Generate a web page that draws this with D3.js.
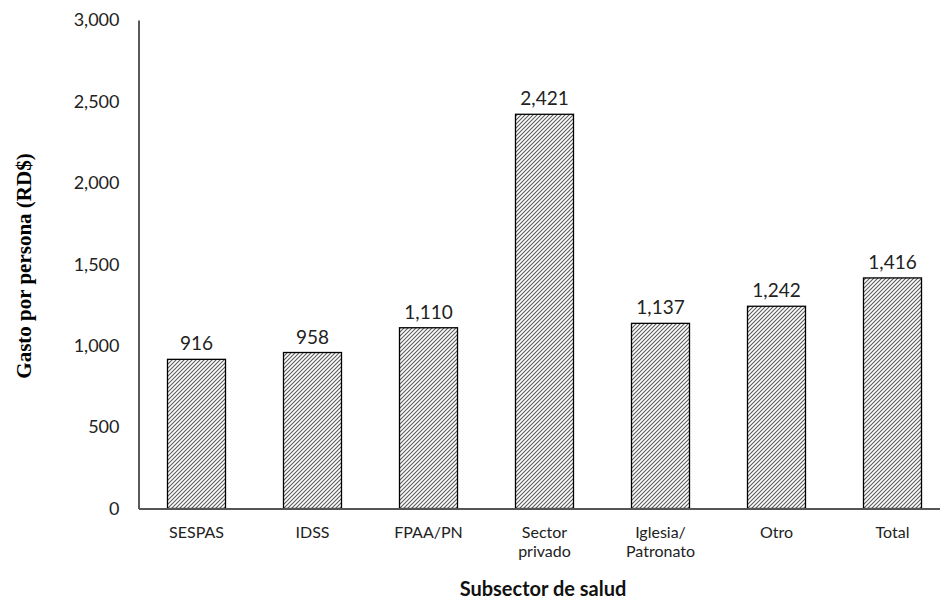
<!DOCTYPE html>
<html><head><meta charset="utf-8">
<script src="https://cdn.jsdelivr.net/npm/d3@7"></script>
<style>body{margin:0;background:#fff}svg{display:block}</style>
</head><body>
<svg id="c" width="940" height="599"></svg>
<script>
const categories = ["SESPAS","IDSS","FPAA/PN","Sector privado","Iglesia/ Patronato","Otro","Total"];
const values = [916, 958, 1110, 2421, 1137, 1242, 1416];
const yTicks = [0, 500, 1000, 1500, 2000, 2500, 3000];
const xTitle = "Subsector de salud";
const yTitle = "Gasto por persona (RD$)";

const svg = d3.select("#c");
const sansFont = "Lato, 'Open Sans', sans-serif";
const x = d3.scaleBand().domain(categories).range([138.5, 950.5]).paddingInner(0.5).paddingOuter(0.25);
const y = d3.scaleLinear().domain([0, 3000]).range([508.5, 20]);

const defs = svg.append("defs");
const pat = defs.append("pattern").attr("id","hatch").attr("patternUnits","userSpaceOnUse")
  .attr("width",4).attr("height",4);
pat.append("rect").attr("width",4).attr("height",4).attr("fill","#fff");
pat.append("path").attr("d","M-1,1 L1,-1 M0,4 L4,0 M3,5 L5,3").attr("stroke","#5a5a5a").attr("stroke-width",1.1);

// bars
svg.selectAll("rect.bar").data(values).join("rect").attr("class","bar")
  .attr("x",(d,i)=>x(categories[i])).attr("width",x.bandwidth())
  .attr("y",d=>y(d)).attr("height",d=>y(0)-y(d))
  .attr("fill","url(#hatch)").attr("stroke","#000").attr("stroke-width",1.3);

// value labels
svg.selectAll("text.val").data(values).join("text").attr("class","val")
  .attr("x",(d,i)=>x(categories[i])+x.bandwidth()/2).attr("y",d=>y(d)-9)
  .attr("text-anchor","middle").attr("font-family",sansFont).attr("font-size",19).attr("fill","#222")
  .text(d=>d3.format(",")(d));

// y axis
const yAxis = svg.append("g").attr("transform","translate(138.5,0)")
  .call(d3.axisLeft(y).tickValues(yTicks).tickFormat(d3.format(",")).tickSize(0).tickPadding(19));
yAxis.select(".domain").attr("stroke","#000").attr("stroke-width",1.3);
yAxis.selectAll("text").attr("font-family",sansFont).attr("font-size",18).attr("fill","#222");

// x axis
const xAxis = svg.append("g").attr("transform","translate(0,508.5)")
  .call(d3.axisBottom(x).tickSize(0).tickPadding(0).tickFormat(""));
xAxis.select(".domain").attr("stroke","#555").attr("stroke-width",2);
xAxis.selectAll(".tick").each(function(d){
  const lines = d.split(" ");
  const t = d3.select(this).append("text").attr("fill","#222").attr("font-family",sansFont)
    .attr("font-size",16).attr("text-anchor","middle");
  lines.forEach((l,j)=>t.append("tspan").attr("x",0).attr("y",29+j*19).text(l));
});

// titles
svg.append("text").attr("x",543).attr("y",596).attr("text-anchor","middle")
  .attr("font-family",sansFont).attr("font-weight","bold").attr("font-size",20).attr("fill","#111").text(xTitle);
svg.append("text").attr("transform","translate(31,266) rotate(-90)").attr("text-anchor","middle")
  .attr("font-family","'Liberation Serif', serif").attr("font-weight","bold").attr("font-size",21).attr("fill","#000").text(yTitle);
</script>
</body></html>
